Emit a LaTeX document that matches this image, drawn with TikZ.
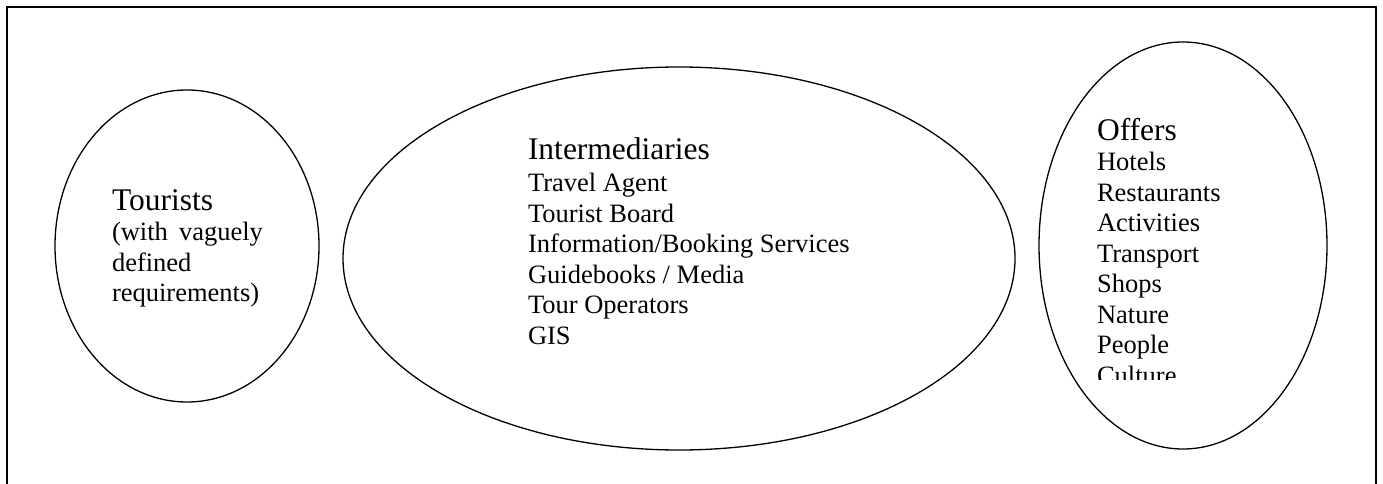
\documentclass[tikz,border=0pt]{standalone}
\usepackage{fontspec}
\setmainfont{Liberation Serif}
\usetikzlibrary{shapes.geometric}
\newcommand\blockstack[2]{\vtop{\baselineskip=30.5pt\lineskiplimit=-1000pt\lineskip=0pt
  \hbox{\fontsize{31.5}{31.5}\selectfont #1}\fontsize{26.5}{30.5}\selectfont #2}}
\newcommand\li[1]{\hbox{#1}}
\begin{document}
\begin{tikzpicture}[x=1pt,y=-1pt,
  bubble/.style={draw=black, line width=1.3pt, ellipse, inner sep=0pt},
  frameline/.style={draw=black, line width=1.6pt},
  lbl/.style={inner sep=0pt, outer sep=0pt, anchor=base west, text=black}]
\useasboundingbox (0,0) rectangle (1383,484);
\fill[white] (0,0) rectangle (1383,484);
% frame (open at bottom)
\coordinate (fbl) at (7,490);
\coordinate (ftl) at (7,7);
\coordinate (ftr) at (1376,7);
\coordinate (fbr) at (1376,490);
\draw[frameline] (fbl) -- (ftl) -- (ftr) -- (fbr);
% ellipses
\node[bubble, minimum width=264pt, minimum height=312pt] (tourists) at (187,246) {};
\node[bubble, minimum width=672pt, minimum height=383pt] (inter) at (679,258.5) {};
\node[bubble, minimum width=288pt, minimum height=407pt] (offers) at (1183,245.5) {};
% texts
\node[lbl] (ttext) at (112,210) {\blockstack{Tourists}{\li{(with\hspace{4.5pt} vaguely}\li{defined}\li{requirements)}}};
\node[lbl] (itext) at (528,159) {\blockstack{Intermediaries}{\vskip2pt\li{Travel Agent}\li{Tourist Board}\li{Information/Booking Services}\li{Guidebooks / Media}\li{Tour Operators}\li{GIS}}};
\begin{scope}
\clip (1040,20) rectangle (1330,379.5);
\node[lbl] (otext) at (1097,140) {\blockstack{Offers}{\li{Hotels}\li{Restaurants}\li{Activities}\li{Transport}\li{Shops}\li{Nature}\li{People}\li{Culture}}};
\end{scope}
\end{tikzpicture}
\end{document}
